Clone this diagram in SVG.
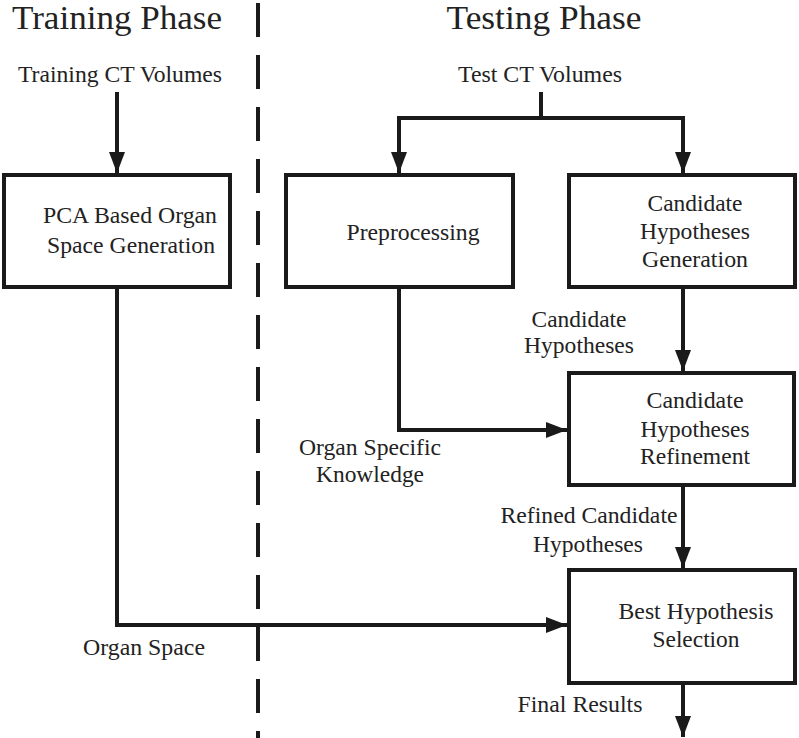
<svg xmlns="http://www.w3.org/2000/svg" width="799" height="738" viewBox="0 0 799 738">
<style>
text{font-family:"Liberation Serif","Times New Roman",Tinos,"Nimbus Roman","DejaVu Serif",serif;fill:#222;text-anchor:middle}
.title{font-size:33px}
.lbl{font-size:23px}
.box{fill:#fff;stroke:#1a1a1a;stroke-width:4}
.ln{fill:none;stroke:#1a1a1a;stroke-width:4}
.dash{fill:none;stroke:#1a1a1a;stroke-width:4;stroke-dasharray:34 18}
</style>
<defs>
<marker id="ah" markerUnits="userSpaceOnUse" markerWidth="21" markerHeight="16" refX="21" refY="8" orient="auto" viewBox="0 0 21 16">
<path d="M0,0 L21,8 L0,16 Z" fill="#1a1a1a"/>
</marker>
</defs>
<rect width="799" height="738" fill="#fff"/>
<line class="dash" x1="258" y1="3" x2="258" y2="738"/>
<text class="title" x="117" y="29" textLength="210" lengthAdjust="spacingAndGlyphs">Training Phase</text>
<text class="title" x="544" y="29" textLength="195" lengthAdjust="spacingAndGlyphs">Testing Phase</text>
<text class="lbl" x="120" y="82" textLength="204" lengthAdjust="spacingAndGlyphs">Training CT Volumes</text>
<text class="lbl" x="540" y="82" textLength="164" lengthAdjust="spacingAndGlyphs">Test CT Volumes</text>
<g id="connectors">
<line class="ln" x1="117" y1="92" x2="117" y2="173" marker-end="url(#ah)"/>
<polyline class="ln" points="541,92 541,118"/>
<polyline class="ln" points="399,173 399,118 683,118 683,173" marker-end="url(#ah)"/>
<line class="ln" x1="399" y1="120" x2="399" y2="173" marker-end="url(#ah)"/>
<polyline class="ln" points="117,287 117,625 567,625" marker-end="url(#ah)"/>
<polyline class="ln" points="399,287 399,430 567,430" marker-end="url(#ah)"/>
<line class="ln" x1="683" y1="287" x2="683" y2="371" marker-end="url(#ah)"/>
<line class="ln" x1="683" y1="485" x2="683" y2="568" marker-end="url(#ah)"/>
<line class="ln" x1="683" y1="683" x2="683" y2="737" marker-end="url(#ah)"/>
</g>
<g id="pca">
<rect class="box" x="4" y="175" width="226" height="112"/>
<text class="lbl" x="130" y="223" textLength="174" lengthAdjust="spacingAndGlyphs">PCA Based Organ</text>
<text class="lbl" x="131" y="253" textLength="168" lengthAdjust="spacingAndGlyphs">Space Generation</text>
</g>
<g id="preprocessing">
<rect class="box" x="286" y="175" width="227" height="112"/>
<text class="lbl" x="413" y="240" textLength="133" lengthAdjust="spacingAndGlyphs">Preprocessing</text>
</g>
<g id="generation">
<rect class="box" x="569" y="175" width="226" height="112"/>
<text class="lbl" x="695" y="211" textLength="95" lengthAdjust="spacingAndGlyphs">Candidate</text>
<text class="lbl" x="695" y="239" textLength="110" lengthAdjust="spacingAndGlyphs">Hypotheses</text>
<text class="lbl" x="695" y="267" textLength="106" lengthAdjust="spacingAndGlyphs">Generation</text>
</g>
<g id="refinement">
<rect class="box" x="569" y="373" width="225" height="112"/>
<text class="lbl" x="695" y="408" textLength="97" lengthAdjust="spacingAndGlyphs">Candidate</text>
<text class="lbl" x="695" y="437" textLength="109" lengthAdjust="spacingAndGlyphs">Hypotheses</text>
<text class="lbl" x="695" y="464" textLength="110" lengthAdjust="spacingAndGlyphs">Refinement</text>
</g>
<g id="selection">
<rect class="box" x="569" y="570" width="226" height="113"/>
<text class="lbl" x="696" y="619" textLength="155" lengthAdjust="spacingAndGlyphs">Best Hypothesis</text>
<text class="lbl" x="696" y="647" textLength="87" lengthAdjust="spacingAndGlyphs">Selection</text>
</g>
<g id="labels">
<text class="lbl" x="579" y="327" textLength="95" lengthAdjust="spacingAndGlyphs">Candidate</text>
<text class="lbl" x="579" y="353" textLength="110" lengthAdjust="spacingAndGlyphs">Hypotheses</text>
<text class="lbl" x="370" y="455" textLength="142" lengthAdjust="spacingAndGlyphs">Organ Specific</text>
<text class="lbl" x="370" y="482" textLength="108" lengthAdjust="spacingAndGlyphs">Knowledge</text>
<text class="lbl" x="589" y="523" textLength="177" lengthAdjust="spacingAndGlyphs">Refined Candidate</text>
<text class="lbl" x="588" y="552" textLength="110" lengthAdjust="spacingAndGlyphs">Hypotheses</text>
<text class="lbl" x="144" y="655" textLength="122" lengthAdjust="spacingAndGlyphs">Organ Space</text>
<text class="lbl" x="580" y="712" textLength="125" lengthAdjust="spacingAndGlyphs">Final Results</text>
</g>
</svg>
